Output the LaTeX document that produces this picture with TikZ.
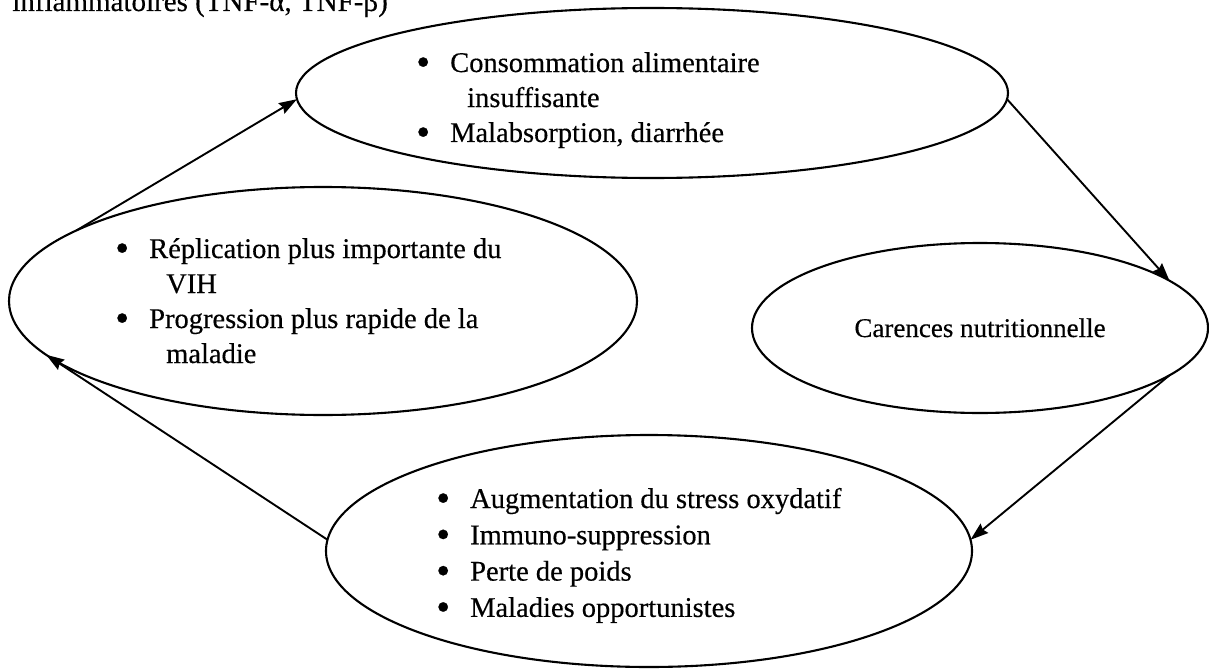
\documentclass[tikz,border=0pt]{standalone}
\usepackage{graphicx}
\usepackage{fontspec}
\setmainfont{Liberation Serif}[FakeBold=0.4]
\usetikzlibrary{shapes.geometric,arrows.meta}
\newcommand\bitem{\makebox[34pt][l]{\raisebox{-3.3pt}{\scalebox{1.4}{\textbullet}}}}
\newcommand\cont{\hspace*{51pt}}
\begin{document}
\begin{tikzpicture}[x=1pt,y=-1pt,
  ell/.style={draw, ellipse, line width=2.1pt, inner sep=0pt, outer sep=0pt},
  arr/.style={line width=1.9pt, -{Stealth[length=18pt,width=12pt,inset=2pt]}},
  txt/.style={anchor=base west, inner sep=0pt}
]
\useasboundingbox (0,0) rectangle (1209,669);
\clip (0,0) rectangle (1209,669);
\node[anchor=base east, inner sep=0pt, font=\fontsize{29}{35}\selectfont] (hdr) at (388,11) {inflammatoires (TNF-α, TNF-β)};

\node[ell, minimum width=712, minimum height=170] (T) at (652,93) {};
\node[ell, minimum width=628, minimum height=228] (L) at (323,301) {};
\node[ell, minimum width=456, minimum height=170] (R) at (980,328) {};
\node[ell, minimum width=646, minimum height=232] (B) at (649,551) {};

\node[txt, font=\fontsize{28.5}{35}\selectfont] (tt) at (416,72) {\begin{tabular}[t]{@{}l@{}}
\bitem Consommation alimentaire\\
\cont insuffisante\\
\bitem Malabsorption, diarrhée
\end{tabular}};
\node[txt, font=\fontsize{28.5}{35}\selectfont] (lt) at (115,258) {\begin{tabular}[t]{@{}l@{}}
\bitem Réplication plus importante du\\
\cont VIH\\
\bitem Progression plus rapide de la\\
\cont maladie
\end{tabular}};
\node[anchor=base, inner sep=0pt, font=\fontsize{27}{32}\selectfont] (rt) at (980,337) {Carences nutritionnelle};
\node[txt, font=\fontsize{28.5}{36.3}\selectfont] (bt) at (436,508) {\begin{tabular}[t]{@{}l@{}}
\bitem Augmentation du stress oxydatif\\
\bitem Immuno-suppression\\
\bitem Perte de poids\\
\bitem Maladies opportunistes
\end{tabular}};

\draw[arr] (L.164) -- (T.181);
\draw[arr] (T.-1) -- (R.14);
\draw[arr] (R.-14.5) -- (B.2.5);
\draw[arr] (B.178.6) -- (L.191.6);
\end{tikzpicture}
\end{document}
